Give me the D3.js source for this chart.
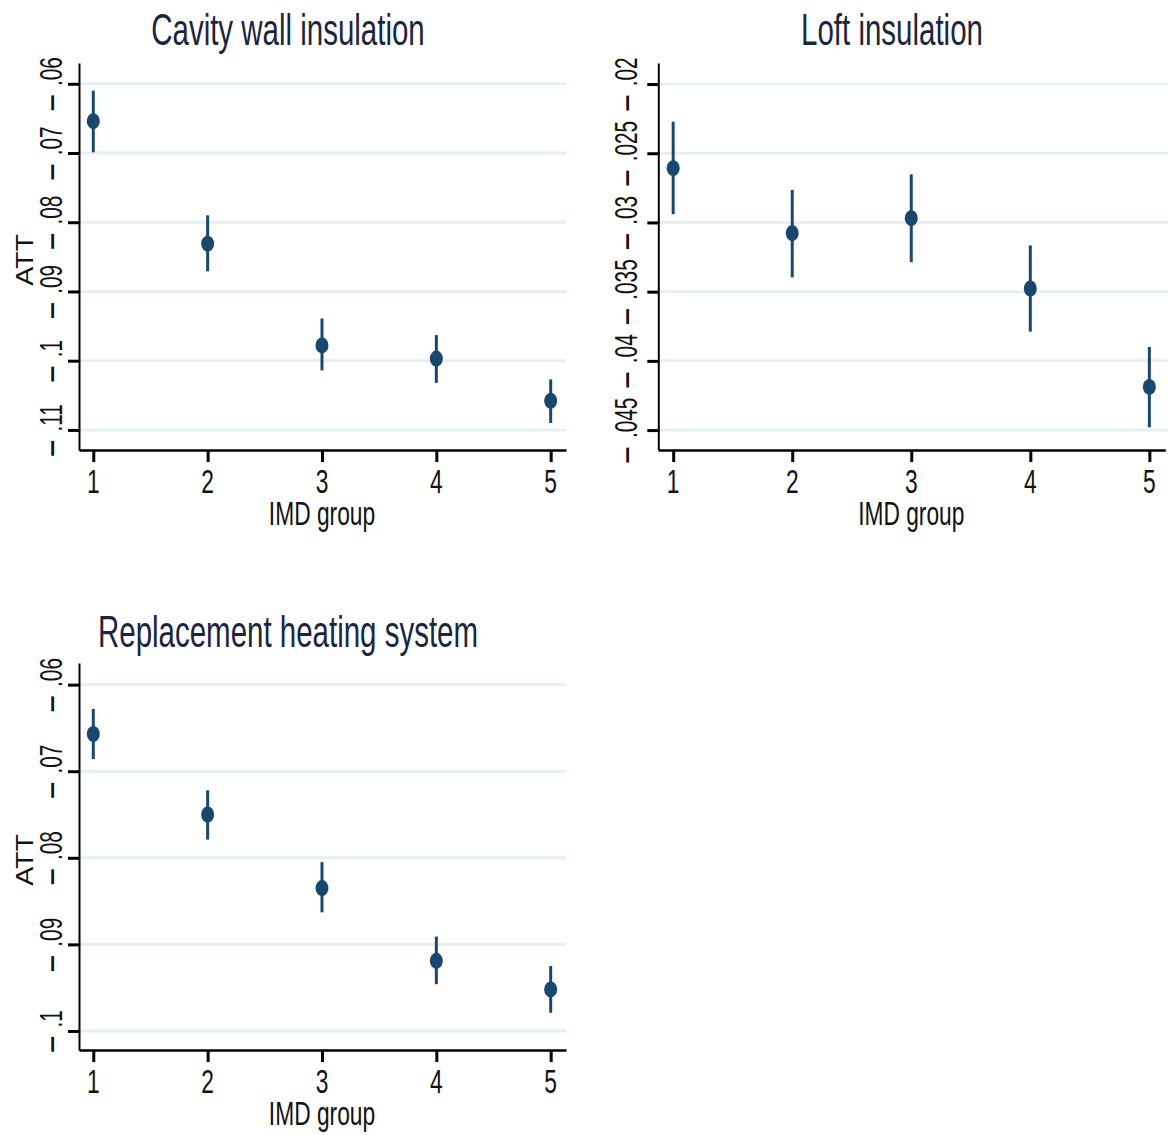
<!DOCTYPE html>
<html>
<head>
  <script src="https://d3js.org/d3.v7.min.js" type="text/javascript"></script>
  <style>
    body { margin: 0; background: #fff; }
    text { font-family: "Liberation Sans", Arial, sans-serif; }
  </style>
</head>
<body>
<svg id="chart" width="1168" height="1135"></svg>

<script type="text/javascript">
// x axis categories
var imdGroups = [1, 2, 3, 4, 5];

// Cavity wall insulation: ATT and confidence interval per IMD group
var cavityAtt  = [-0.0654, -0.0831, -0.0978, -0.0997, -0.1058];
var cavityLow  = [-0.0699, -0.0871, -0.1014, -0.1032, -0.1090];
var cavityHigh = [-0.0610, -0.0790, -0.0939, -0.0963, -0.1027];
var cavityTicks = [-0.06, -0.07, -0.08, -0.09, -0.10, -0.11];
var cavityTickLabels = ["-.06", "-.07", "-.08", "-.09", "-.1", "-.11"];

// Loft insulation
var loftAtt  = [-0.02608, -0.03077, -0.02969, -0.03477, -0.04188];
var loftLow  = [-0.02940, -0.03397, -0.03287, -0.03789, -0.04480];
var loftHigh = [-0.02272, -0.02765, -0.02652, -0.03166, -0.03900];
var loftTicks = [-0.02, -0.025, -0.03, -0.035, -0.04, -0.045];
var loftTickLabels = ["-.02", "-.025", "-.03", "-.035", "-.04", "-.045"];

// Replacement heating system
var heatingAtt  = [-0.0657, -0.0750, -0.0835, -0.0919, -0.0952];
var heatingLow  = [-0.0686, -0.0779, -0.0863, -0.0946, -0.0979];
var heatingHigh = [-0.0628, -0.0722, -0.0805, -0.0891, -0.0925];
var heatingTicks = [-0.06, -0.07, -0.08, -0.09, -0.10];
var heatingTickLabels = ["-.06", "-.07", "-.08", "-.09", "-.1"];

var navy = "#1a476f";
var gridColor = "#e6eff1";

var panels = [
  { title: "Cavity wall insulation", att: cavityAtt, low: cavityLow, high: cavityHigh,
    ticks: cavityTicks, labels: cavityTickLabels, yDomain: [-0.1129, -0.0570],
    left: 79, right: 566, top: 63, bottom: 450, titleX: 288, titleY: 45,
    labelGap: 17, ytitle: true, ytitleY: 260 },
  { title: "Loft insulation", att: loftAtt, low: loftLow, high: loftHigh,
    ticks: loftTicks, labels: loftTickLabels, yDomain: [-0.04644, -0.01848],
    left: 658.3, right: 1170, top: 63, bottom: 450, titleX: 892, titleY: 45,
    labelGap: 21, ytitle: false },
  { title: "Replacement heating system", att: heatingAtt, low: heatingLow, high: heatingHigh,
    ticks: heatingTicks, labels: heatingTickLabels, yDomain: [-0.1022, -0.0575],
    left: 79, right: 566, top: 663, bottom: 1050, titleX: 288, titleY: 647,
    labelGap: 17, ytitle: true, ytitleY: 860 }
];

var svg = d3.select("#chart");

// narrow looking text: draw with a horizontal squeeze
function addText(g, txt, x, y, size, sx, rot) {
  return g.append("text")
    .attr("transform", "translate(" + x + "," + y + ") rotate(" + (rot || 0) + ") scale(" + sx + ",1)")
    .attr("font-size", size)
    .attr("text-anchor", "middle")
    .attr("fill", "#111")
    .text(txt);
}

panels.forEach(function(p) {
  var g = svg.append("g");

  var x = d3.scaleLinear().domain([0.875, 5.134]).range([p.left, p.left + (p.left > 600 ? 507 : 487)]);
  var y = d3.scaleLinear().domain(p.yDomain).range([p.bottom, p.top]);

  // gridlines
  g.append("g").selectAll("line")
    .data(p.ticks)
    .enter().append("line")
      .attr("x1", p.left).attr("x2", p.right)
      .attr("y1", function(d) { return y(d); })
      .attr("y2", function(d) { return y(d); })
      .attr("stroke", gridColor)
      .attr("stroke-width", 3);

  // y axis
  var yAxis = g.append("g")
    .attr("transform", "translate(" + p.left + ",0)")
    .call(d3.axisLeft(y).tickValues(p.ticks).tickSize(11).tickSizeOuter(0).tickFormat(""));
  yAxis.select(".domain").attr("stroke", "#000").attr("stroke-width", 2);
  yAxis.selectAll(".tick line").attr("stroke", "#000").attr("stroke-width", 3);

  // x axis
  var xAxis = g.append("g")
    .attr("transform", "translate(0," + p.bottom + ")")
    .call(d3.axisBottom(x).tickValues(imdGroups).tickSize(12).tickSizeOuter(0).tickFormat(""));
  xAxis.select(".domain").attr("stroke", "#000").attr("stroke-width", 2.5);
  xAxis.selectAll(".tick line").attr("stroke", "#000").attr("stroke-width", 3);

  // y tick labels, rotated
  p.ticks.forEach(function(t, i) {
    var lab = p.labels[i];
    var txt = g.append("text")
      .attr("transform", "translate(" + (p.left - p.labelGap) + "," + y(t) + ") rotate(-90) scale(0.67,1)")
      .attr("font-size", 31)
      .attr("text-anchor", "middle")
      .attr("fill", "#111");
    txt.append("tspan").attr("font-size", 40).attr("dy", 1).text("\u2013");
    txt.append("tspan").attr("dx", 14).attr("dy", -1).text(lab.replace("-", ""));
  });

  // x tick labels
  imdGroups.forEach(function(v) {
    addText(g, String(v), x(v), p.bottom + 43, 34, 0.67);
  });

  // axis titles
  addText(g, "IMD group", x(3), p.bottom + 75, 33, 0.69);
  if (p.ytitle) {
    addText(g, "ATT", 33, p.ytitleY, 23, 1.24, -90);
  }

  // panel title
  addText(g, p.title, p.titleX, p.titleY, 44, 0.67).attr("fill", "#1c2540");

  // confidence intervals
  g.append("g").selectAll("line")
    .data(imdGroups)
    .enter().append("line")
      .attr("x1", function(d) { return x(d); })
      .attr("x2", function(d) { return x(d); })
      .attr("y1", function(d, i) { return y(p.low[i]); })
      .attr("y2", function(d, i) { return y(p.high[i]); })
      .attr("stroke", navy)
      .attr("stroke-width", 3);

  // point estimates
  g.append("g").selectAll("ellipse")
    .data(imdGroups)
    .enter().append("ellipse")
      .attr("cx", function(d) { return x(d); })
      .attr("cy", function(d, i) { return y(p.att[i]); })
      .attr("rx", 6.5)
      .attr("ry", 8)
      .attr("fill", navy);
});
</script>
</body>
</html>
